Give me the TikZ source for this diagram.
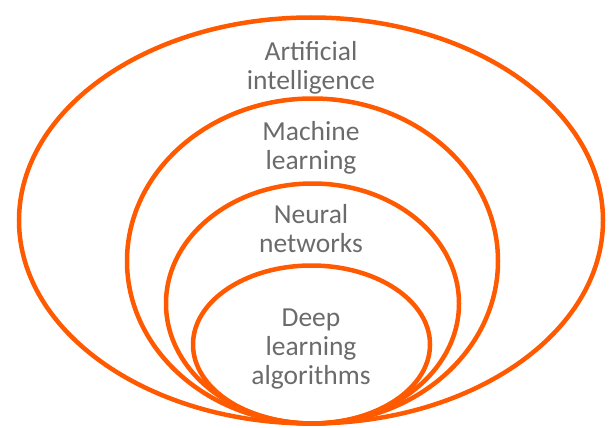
\documentclass[tikz,border=0pt]{standalone}
\usepackage{fontspec}
\setmainfont{Carlito}
\definecolor{ring}{HTML}{FF5A00}
\definecolor{txt}{HTML}{6B6B6B}
\begin{document}
\begin{tikzpicture}[x=1pt,y=-1pt,
  ringstyle/.style={draw=ring,line width=4.5pt},
  lbl/.style={text=txt,font=\fontsize{27.5}{29}\selectfont,align=center,inner sep=0pt}]
\useasboundingbox (0,0) rectangle (613,428);
\draw[ringstyle] (311,220.5) ellipse [x radius=292,y radius=203];
\draw[ringstyle] (312.5,261) ellipse [x radius=185.5,y radius=162.5];
\draw[ringstyle] (312.5,303.5) ellipse [x radius=146.5,y radius=120];
\draw[ringstyle] (311.5,344.5) ellipse [x radius=118.5,y radius=79];
\node[lbl] (ai) at (311,68) {Artificial\\intelligence};
\node[lbl] (ml) at (311,148) {Machine\\learning};
\node[lbl] (nn) at (311,229) {Neural\\networks};
\node[lbl] (dl) at (311,349) {Deep\\learning\\algorithms};
\end{tikzpicture}
\end{document}
